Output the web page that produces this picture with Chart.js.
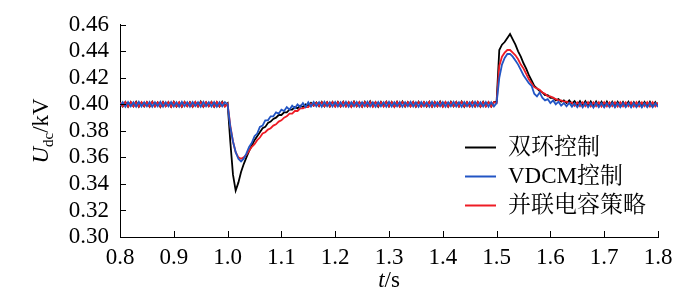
<!DOCTYPE html>
<html><head><meta charset="utf-8">
<script src="https://cdn.jsdelivr.net/npm/chart.js@4/dist/chart.umd.min.js"></script>
<style>html,body{margin:0;padding:0;background:#fff;}canvas{display:block}</style>
</head><body>
<canvas id="c" width="700" height="289"></canvas>
<script>
// ---- data ----
const tStart = 0.8, tStep = 0.005;   // sampling of the recorded waveforms (s)
const xTickValues = [0.8,0.9,1.0,1.1,1.2,1.3,1.4,1.5,1.6,1.7,1.8];
const yTickValues = [0.30,0.32,0.34,0.36,0.38,0.40,0.42,0.44,0.46];
const seriesNames = ['双环控制','VDCM控制','并联电容策略'];
const xTitle = ['t','/s'];
const yTitle = ['U','dc','/kV'];

const dualLoop = [
0.4010,0.3984,0.4018,0.3983,0.4016,0.3986,0.4019,0.3982,0.4014,0.3985,
0.4017,0.3983,0.4020,0.3985,0.4015,0.3981,0.4018,0.3986,0.4016,0.3983,
0.4019,0.3984,0.4014,0.3982,0.4018,0.3987,0.4017,0.3982,0.4016,0.3984,
0.4020,0.3983,0.4015,0.3986,0.4018,0.3983,0.4016,0.3984,0.4019,0.3986,
0.4008,
0.372,0.347,0.335,0.341,0.349,0.355,0.360,0.365,0.369,0.373,
0.376,0.379,0.382,0.383,0.386,0.387,0.389,0.390,0.392,0.392,
0.394,0.394,0.396,0.396,0.398,0.397,0.399,0.398,0.400,0.399,
0.4012,0.3990,0.4015,0.3987,0.4018,0.3985,0.4017,0.3984,0.4018,0.3985,
0.4018,0.3984,0.4020,0.3985,0.4016,0.3982,0.4021,0.3986,0.4017,0.3983,
0.4019,0.3984,0.4022,0.3985,0.4016,0.3983,0.4018,0.3987,0.4020,0.3984,
0.4017,0.3982,0.4019,0.3985,0.4021,0.3984,0.4016,0.3986,0.4018,0.3983,
0.4020,0.3985,0.4017,0.3984,0.4019,0.3982,0.4018,0.3986,0.4021,0.3984,
0.4016,0.3983,0.4019,0.3985,0.4018,0.3984,0.4020,0.3982,0.4017,0.3986,
0.4019,0.3984,0.4018,0.3983,0.4020,0.3985,0.4016,0.3984,0.4018,
0.402,0.441,0.445,0.447,0.450,0.453,0.449,0.445,0.440,0.436,
0.431,0.427,0.422,0.418,0.414,0.412,0.410,0.409,0.407,0.407,
0.405,0.405,0.403,0.404,0.402,0.403,0.401,0.403,0.4005,0.4025,0.3995,
0.4024,0.3992,0.4024,0.3990,0.4022,0.3988,0.4021,0.3987,0.4020,0.3985,
0.4021,0.3986,0.4019,0.3985,0.4020,0.3984,0.4018,0.3986,0.4020,0.3985,
0.4017,0.3984,0.4019,0.3986,0.4018,0.3985,0.4020,0.3984,0.4017,0.3985
];

const vdcm = [
0.3990,0.4017,0.3983,0.4018,0.3985,0.4016,0.3982,0.4019,0.3984,0.4017,
0.3985,0.4018,0.3983,0.4016,0.3986,0.4019,0.3982,0.4017,0.3985,0.4018,
0.3984,0.4016,0.3983,0.4019,0.3985,0.4017,0.3982,0.4018,0.3986,0.4016,
0.3983,0.4019,0.3985,0.4017,0.3984,0.4018,0.3982,0.4016,0.3985,0.4017,
0.4000,
0.383,0.372,0.364,0.359,0.357,0.359,0.363,0.368,0.371,0.376,
0.378,0.383,0.384,0.388,0.388,0.391,0.391,0.394,0.393,0.396,
0.395,0.398,0.396,0.399,0.397,0.400,0.398,0.401,0.398,0.4016,
0.3984,0.4018,0.3985,0.4017,0.3983,0.4019,0.3985,0.4017,0.3984,0.4018,
0.3984,0.4017,0.3985,0.4019,0.3983,0.4016,0.3985,0.4018,0.3982,0.4017,
0.3985,0.4019,0.3984,0.4016,0.3983,0.4018,0.3985,0.4017,0.3982,0.4019,
0.3984,0.4016,0.3985,0.4018,0.3983,0.4017,0.3986,0.4019,0.3984,0.4016,
0.3983,0.4018,0.3985,0.4017,0.3982,0.4019,0.3984,0.4016,0.3985,0.4018,
0.3983,0.4017,0.3985,0.4019,0.3984,0.4016,0.3982,0.4018,0.3985,0.4017,
0.3983,0.4019,0.3985,0.4016,0.3984,0.4018,0.3983,0.4017,0.3985,
0.401,0.420,0.430,0.435,0.438,0.438,0.436,0.433,0.430,0.426,
0.422,0.419,0.416,0.414,0.408,0.406,0.409,0.405,0.403,0.404,
0.401,0.403,0.400,0.402,0.399,0.401,0.3985,0.4010,0.3982,0.4009,0.3979,
0.4010,0.3978,0.4011,0.3979,0.4009,0.3977,0.4011,0.3980,0.4009,0.3978,
0.4010,0.3979,0.4012,0.3978,0.4009,0.3980,0.4011,0.3979,0.4010,0.3978,
0.4011,0.3980,0.4009,0.3978,0.4010,0.3979,0.4011,0.3980,0.4009,0.3981
];

const parallelCap = [
0.4014,0.3986,0.4016,0.3984,0.4018,0.3985,0.4015,0.3983,0.4017,0.3986,
0.4016,0.3984,0.4018,0.3985,0.4015,0.3984,0.4017,0.3986,0.4016,0.3983,
0.4018,0.3985,0.4016,0.3984,0.4017,0.3986,0.4015,0.3984,0.4018,0.3985,
0.4016,0.3983,0.4017,0.3986,0.4016,0.3984,0.4018,0.3985,0.4015,0.3984,
0.4004,
0.384,0.372,0.364,0.360,0.359,0.360,0.362,0.365,0.368,0.370,
0.373,0.375,0.378,0.379,0.381,0.382,0.384,0.385,0.387,0.388,
0.390,0.391,0.393,0.393,0.395,0.395,0.397,0.397,0.398,0.398,
0.4005,0.3990,0.4012,0.3987,0.4015,0.3986,0.4016,0.3985,0.4017,0.3984,
0.4017,0.3984,0.4018,0.3985,0.4016,0.3983,0.4018,0.3986,0.4016,0.3984,
0.4017,0.3985,0.4018,0.3983,0.4016,0.3986,0.4017,0.3984,0.4018,0.3985,
0.4016,0.3983,0.4018,0.3984,0.4017,0.3986,0.4016,0.3984,0.4018,0.3985,
0.4017,0.3983,0.4016,0.3986,0.4018,0.3984,0.4017,0.3985,0.4016,0.3983,
0.4018,0.3984,0.4017,0.3986,0.4016,0.3984,0.4018,0.3985,0.4017,0.3983,
0.4016,0.3986,0.4018,0.3984,0.4017,0.3985,0.4016,0.3984,0.4017,
0.401,0.429,0.436,0.439,0.441,0.441,0.439,0.437,0.434,0.430,
0.427,0.423,0.419,0.416,0.413,0.412,0.411,0.409,0.408,0.406,
0.406,0.405,0.404,0.403,0.403,0.402,0.402,0.401,0.4015,0.3990,0.4015,
0.3987,0.4016,0.3986,0.4017,0.3985,0.4015,0.3986,0.4016,0.3984,0.4017,
0.3985,0.4015,0.3986,0.4016,0.3984,0.4017,0.3985,0.4015,0.3986,0.4016,
0.3984,0.4017,0.3985,0.4015,0.3986,0.4016,0.3984,0.4017,0.3985,0.4015
];

const seriesColors = ['#000000','#2255c4','#ee1c25'];

// ---- build ----
const toPts = arr => arr.map((v,i)=>({x:+(tStart+i*tStep).toFixed(3), y:v}));
const serif = '"Liberation Serif","Times New Roman",serif';
const cjk = '"Liberation Serif","Noto Serif CJK SC","Noto Sans CJK SC",serif';

const CA = {left:120, right:658, top:6, bottom:237};
const FS = 23;

const decor = {
  id:'decor',
  afterDraw(chart){
    const ctx = chart.ctx, xs = chart.scales.x, ys = chart.scales.y;
    const a = chart.chartArea;
    ctx.save();
    ctx.strokeStyle = '#000'; ctx.lineWidth = 1;
    // inward ticks
    ctx.beginPath();
    xTickValues.forEach(v=>{const px=Math.round(xs.getPixelForValue(v))+0.5; ctx.moveTo(px,a.bottom); ctx.lineTo(px,a.bottom-6);});
    yTickValues.forEach(v=>{const py=Math.round(ys.getPixelForValue(v))+0.5; ctx.moveTo(a.left,py); ctx.lineTo(a.left+6,py);});
    ctx.stroke();
    // x title
    ctx.fillStyle='#000'; ctx.textBaseline='alphabetic';
    ctx.font = 'italic '+FS+'px '+serif;
    const w1 = ctx.measureText(xTitle[0]).width;
    ctx.font = FS+'px '+serif;
    const w2 = ctx.measureText(xTitle[1]).width;
    let x0 = (a.left+a.right)/2 - (w1+w2)/2, yb = 287;
    ctx.font = 'italic '+FS+'px '+serif; ctx.fillText(xTitle[0], x0, yb);
    ctx.font = FS+'px '+serif; ctx.fillText(xTitle[1], x0+w1, yb);
    // y title (rotated)
    ctx.save();
    ctx.translate(48, (a.top+a.bottom)/2);
    ctx.rotate(-Math.PI/2);
    ctx.font = 'italic '+FS+'px '+serif; const u = ctx.measureText(yTitle[0]).width;
    ctx.font = '15px '+serif; const d = ctx.measureText(yTitle[1]).width;
    ctx.font = FS+'px '+serif; const k = ctx.measureText(yTitle[2]).width;
    let sx = -(u+d+k)/2;
    ctx.font = 'italic '+FS+'px '+serif; ctx.fillText(yTitle[0], sx, 0);
    ctx.font = '15px '+serif; ctx.fillText(yTitle[1], sx+u, 5);
    ctx.font = FS+'px '+serif; ctx.fillText(yTitle[2], sx+u+d, 0);
    ctx.restore();
    // legend
    ctx.font = '23px '+cjk; ctx.textBaseline='middle';
    seriesNames.forEach((n,i)=>{
      const cy = 147 + i*29;
      ctx.strokeStyle = seriesColors[i]; ctx.lineWidth = 2;
      ctx.beginPath(); ctx.moveTo(465,cy+0.5); ctx.lineTo(496,cy+0.5); ctx.stroke();
      ctx.fillStyle='#000'; ctx.fillText(n, 508, cy+1);
    });
    ctx.restore();
  }
};

new Chart(document.getElementById('c'), {
  type:'line',
  data:{datasets:[
    {label:seriesNames[0], data:toPts(dualLoop), borderColor:seriesColors[0], order:3},
    {label:seriesNames[2], data:toPts(parallelCap), borderColor:seriesColors[2], order:2},
    {label:seriesNames[1], data:toPts(vdcm), borderColor:seriesColors[1], order:1}
  ]},
  options:{
    responsive:false, animation:false, devicePixelRatio:1,
    layout:{padding:{top:CA.top, right:700-CA.right, left:0, bottom:0}},
    elements:{point:{radius:0}, line:{borderWidth:1.8, tension:0}},
    plugins:{legend:{display:false}, tooltip:{enabled:false}},
    scales:{
      x:{type:'linear', min:0.8, max:1.8,
         afterBuildTicks: s=>{s.ticks = xTickValues.map(v=>({value:v}));},
         afterFit: s=>{s.height = 289-CA.bottom;},
         grid:{display:false, drawTicks:false},
         border:{display:true, color:'#000', width:1},
         ticks:{color:'#000', padding:7, maxRotation:0, autoSkip:false, font:{family:serif, size:FS},
                callback:v=>Number(v).toFixed(1)}},
      y:{type:'linear', min:0.30, max:0.46,
         afterBuildTicks: s=>{s.ticks = yTickValues.map(v=>({value:v}));},
         afterFit: s=>{s.width = CA.left;},
         grid:{display:false, drawTicks:false},
         border:{display:true, color:'#000', width:1},
         ticks:{color:'#000', padding:11, autoSkip:false, font:{family:serif, size:FS},
                callback:v=>Number(v).toFixed(2)}}
    }
  },
  plugins:[decor]
});
</script>
</body></html>
